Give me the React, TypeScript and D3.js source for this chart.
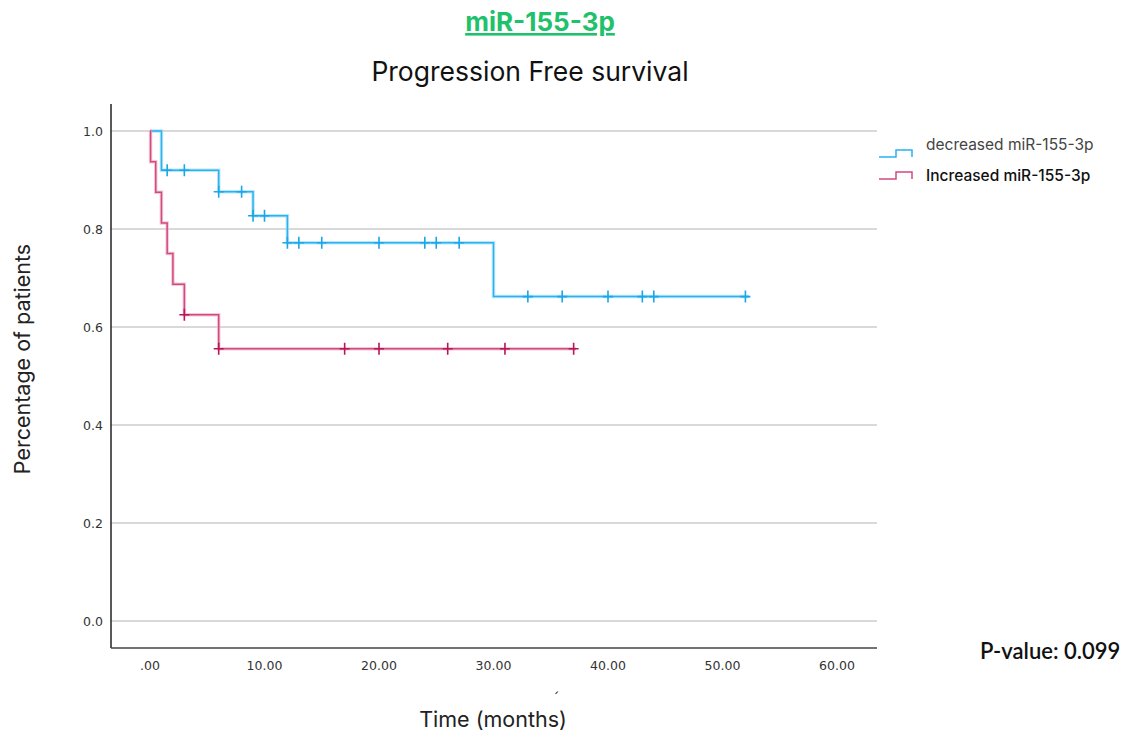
import React, { useEffect, useRef } from 'react';
import * as d3 from 'd3';

// Kaplan-Meier steps: [time, survival after the step]
const decreasedSteps: [number, number][] = [
  [0, 1.0],
  [1, 0.92],
  [6, 0.876],
  [9, 0.827],
  [12, 0.772],
  [30, 0.662],
];
const decreasedCensored = [1.5, 3, 6, 8, 9, 10, 12, 13, 15, 20, 24, 25, 27, 33, 36, 40, 43, 44, 52];
const decreasedEnd = 52.3;

const increasedSteps: [number, number][] = [
  [0, 1.0],
  [0.05, 0.9375],
  [0.5, 0.875],
  [1, 0.8125],
  [1.5, 0.75],
  [2, 0.6875],
  [3, 0.625],
  [6, 0.5556],
];
const increasedCensored = [3, 6, 17, 20, 26, 31, 37];
const increasedEnd = 37.2;

const xTicks = [0, 10, 20, 30, 40, 50, 60];
const yTicks = [0, 0.2, 0.4, 0.6, 0.8, 1.0];

const series = [
  { name: 'decreased miR-155-3p', steps: decreasedSteps, censored: decreasedCensored, end: decreasedEnd, color: '#29b3ef', halo: '#9fdcf8', mark: '#1aa6e8', textColor: '#444', weight: 400 },
  { name: 'Increased miR-155-3p', steps: increasedSteps, censored: increasedCensored, end: increasedEnd, color: '#d24a7e', halo: '#eeb0c8', mark: '#b81659', textColor: '#111', weight: 500 },
];

const App = () => {
  const ref = useRef<SVGSVGElement>(null);

  useEffect(() => {
    const svg = d3.select(ref.current);
    svg.selectAll('*').remove();

    const x = d3.scaleLinear().domain([0, 60]).range([150, 837]);
    const y = d3.scaleLinear().domain([0, 1]).range([621, 131]);
    const left = 111, right = 877, top = 104, bottom = 648;

    // titles
    svg.append('text')
      .attr('x', 540).attr('y', 31)
      .attr('text-anchor', 'middle')
      .attr('font-family', 'Inter, "Noto Sans", sans-serif')
      .attr('font-weight', 700)
      .attr('font-size', 26)
      .attr('fill', '#21c16b')
      .attr('text-decoration', 'underline')
      .text('miR-155-3p');
    svg.append('text')
      .attr('x', 530).attr('y', 81)
      .attr('text-anchor', 'middle')
      .attr('font-family', 'Inter, "Noto Sans", sans-serif')
      .attr('font-size', 26.5)
      .attr('fill', '#111')
      .text('Progression Free survival');

    // gridlines
    svg.append('g').selectAll('line')
      .data(yTicks)
      .enter().append('line')
      .attr('x1', left).attr('x2', right)
      .attr('y1', d => y(d)).attr('y2', d => y(d))
      .attr('stroke', '#b4b4b4').attr('stroke-width', 1.2);

    // axes lines
    svg.append('line').attr('x1', left).attr('x2', left).attr('y1', top).attr('y2', bottom)
      .attr('stroke', '#222').attr('stroke-width', 1.5);
    svg.append('line').attr('x1', left).attr('x2', right).attr('y1', bottom).attr('y2', bottom)
      .attr('stroke', '#444').attr('stroke-width', 1.5);

    // tick labels
    svg.append('g').selectAll('text')
      .data(yTicks)
      .enter().append('text')
      .attr('x', 103).attr('y', d => y(d) + 5)
      .attr('text-anchor', 'end')
      .attr('font-family', '"DejaVu Sans", sans-serif')
      .attr('font-size', 12.5)
      .attr('fill', '#333')
      .text(d => d3.format('.1f')(d));
    svg.append('g').selectAll('text')
      .data(xTicks)
      .enter().append('text')
      .attr('x', d => x(d)).attr('y', 670)
      .attr('text-anchor', 'middle')
      .attr('font-family', '"DejaVu Sans", sans-serif')
      .attr('font-size', 12.5)
      .attr('fill', '#333')
      .text(d => (d === 0 ? '.00' : d3.format('.2f')(d)));

    // axis titles
    svg.append('text')
      .attr('transform', 'translate(30,359) rotate(-90)')
      .attr('text-anchor', 'middle')
      .attr('font-family', 'Inter, "Noto Sans", sans-serif')
      .attr('font-size', 21.5)
      .attr('fill', '#222')
      .text('Percentage of patients');
    svg.append('text')
      .attr('x', 493).attr('y', 727)
      .attr('text-anchor', 'middle')
      .attr('font-family', 'Inter, "Noto Sans", sans-serif')
      .attr('font-size', 21.5)
      .attr('fill', '#222')
      .text('Time (months)');
    svg.append('text')
      .attr('x', 556).attr('y', 703)
      .attr('text-anchor', 'middle')
      .attr('font-family', '"DejaVu Sans", sans-serif')
      .attr('font-size', 14)
      .attr('fill', '#222')
      .text('´');

    // p-value
    svg.append('text')
      .attr('x', 980).attr('y', 659)
      .attr('font-family', 'Lato, "Open Sans", sans-serif')
      .attr('font-weight', 600)
      .attr('font-size', 22)
      .attr('fill', '#111')
      .text('P-value: 0.099');

    const line = d3.line<[number, number]>().x(d => x(d[0])).y(d => y(d[1])).curve(d3.curveStepAfter);

    series.forEach(s => {
      const pts: [number, number][] = [...s.steps, [s.end, s.steps[s.steps.length - 1][1]]];
      const survAt = (t: number) => {
        let v = s.steps[0][1];
        s.steps.forEach(st => { if (st[0] <= t) v = st[1]; });
        return v;
      };
      const g = svg.append('g');
      g.append('path').attr('d', line(pts)).attr('fill', 'none')
        .attr('stroke', s.halo).attr('stroke-width', 3.5).attr('opacity', 0.7);
      g.append('path').attr('d', line(pts)).attr('fill', 'none')
        .attr('stroke', s.color).attr('stroke-width', 1.5);
      g.selectAll('path.c')
        .data(s.censored)
        .enter().append('path')
        .attr('class', 'c')
        .attr('d', t => {
          const cx = x(t), cy = y(survAt(t));
          return `M${cx - 5},${cy}H${cx + 5}M${cx},${cy - 6}V${cy + 6}`;
        })
        .attr('stroke', s.mark).attr('stroke-width', 1.6).attr('fill', 'none');
    });

    // legend
    const legend = svg.append('g');
    series.forEach((s, i) => {
      const ly = 157 + i * 22;
      legend.append('path')
        .attr('d', `M879,${ly}H896V${ly - 7}H912V${ly}`)
        .attr('fill', 'none').attr('stroke', s.color).attr('stroke-width', 1.5);
      legend.append('text')
        .attr('x', 926).attr('y', 150 + i * 31)
        .attr('font-family', 'Inter, "Noto Sans", sans-serif')
        .attr('font-size', 15.5)
        .attr('font-weight', s.weight)
        .attr('fill', s.textColor)
        .text(s.name);
    });
  }, []);

  return <svg ref={ref} width={1127} height={738} style={{ position: 'absolute', left: 0, top: 0, background: '#fff' }} />;
};

export default App;
